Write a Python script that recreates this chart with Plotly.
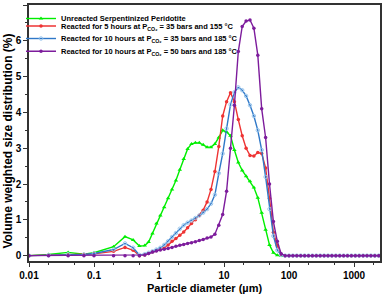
import plotly.graph_objects as go

# particle diameters (µm)
diam = [0.01, 0.02, 0.04, 0.07, 0.1, 0.2, 0.3, 0.4, 0.5,
        0.603, 0.692, 0.794, 0.912, 1.047, 1.202, 1.380, 1.585, 1.820, 2.089,
        2.399, 2.754, 3.162, 3.631, 4.169, 4.786, 5.495, 6.310, 7.244, 8.318,
        9.550, 10.965, 12.589, 14.454, 16.596, 19.055, 21.878, 25.119, 28.840,
        33.113, 38.019, 43.652, 50.119, 57.544, 66.069, 75.858, 87.096,
        100.0, 114.8, 131.8, 151.4, 173.8, 199.5, 229.1, 263.0, 302.0, 346.7,
        398.1, 457.1, 524.8, 602.6, 691.8, 794.3, 912.0, 1047.1, 1202.3,
        1380.4, 1584.9, 1819.7, 2089.3, 2398.8]

unreacted = [0.0, 0.03, 0.09, 0.04, 0.08, 0.25, 0.53, 0.44, 0.27,
             0.28, 0.38, 0.62, 0.90, 1.12, 1.35, 1.60, 1.85, 2.10, 2.40,
             2.70, 2.98, 3.12, 3.15, 3.15, 3.10, 3.03, 3.03, 3.12, 3.30,
             3.50, 3.45, 3.35, 2.95, 2.60, 2.38, 2.22, 2.08, 1.90,
             1.62, 1.20, 0.72, 0.30, 0.08, 0.01, 0.0, 0.0,
             0.0, 0.0, 0.0, 0.0, 0.0, 0.0, 0.0, 0.0, 0.0, 0.0,
             0.0, 0.0, 0.0, 0.0, 0.0, 0.0, 0.0, 0.0, 0.0,
             0.0, 0.0, 0.0, 0.0, 0.0]

react_5h_35bar = [0.0, 0.01, 0.02, 0.03, 0.05, 0.12, 0.23, 0.15, 0.0,
                  0.02, 0.06, 0.10, 0.14, 0.18, 0.22, 0.30, 0.40, 0.48, 0.57,
                  0.66, 0.78, 0.90, 1.00, 1.12, 1.27, 1.50, 1.85, 2.35, 3.05,
                  3.90, 4.30, 4.55, 4.30, 3.80, 3.35, 3.00, 2.80, 2.78,
                  2.88, 2.85, 2.45, 1.60, 0.65, 0.28, 0.03, 0.0,
                  0.0, 0.0, 0.0, 0.0, 0.0, 0.0, 0.0, 0.0, 0.0, 0.0,
                  0.0, 0.0, 0.0, 0.0, 0.0, 0.0, 0.0, 0.0, 0.0,
                  0.0, 0.0, 0.0, 0.0, 0.0]

react_10h_35bar = [0.0, 0.01, 0.04, 0.03, 0.06, 0.17, 0.34, 0.22, 0.02,
                   0.04, 0.08, 0.12, 0.17, 0.22, 0.30, 0.40, 0.52, 0.63, 0.75,
                   0.85, 0.92, 0.98, 1.05, 1.12, 1.20, 1.30, 1.45, 1.70, 2.30,
                   2.85, 3.55, 4.22, 4.56, 4.70, 4.62, 4.46, 4.20, 3.90,
                   3.50, 2.95, 2.20, 1.30, 0.55, 0.15, 0.02, 0.0,
                   0.0, 0.0, 0.0, 0.0, 0.0, 0.0, 0.0, 0.0, 0.0, 0.0,
                   0.0, 0.0, 0.0, 0.0, 0.0, 0.0, 0.0, 0.0, 0.0,
                   0.0, 0.0, 0.0, 0.0, 0.0]

react_10h_50bar = [0.0, 0.0, 0.0, 0.0, 0.0, 0.0, 0.0, 0.0, 0.0,
                   0.02, 0.06, 0.10, 0.13, 0.16, 0.18, 0.20, 0.23, 0.26, 0.29,
                   0.31, 0.34, 0.36, 0.39, 0.42, 0.45, 0.49, 0.52, 0.60, 0.85,
                   1.15, 1.80, 3.00, 4.20, 5.70, 6.40, 6.55, 6.58, 6.35,
                   5.60, 4.10, 3.30, 2.00, 0.95, 0.40, 0.05, 0.0,
                   0.0, 0.0, 0.0, 0.0, 0.0, 0.0, 0.0, 0.0, 0.0, 0.0,
                   0.0, 0.0, 0.0, 0.0, 0.0, 0.0, 0.0, 0.0, 0.0,
                   0.0, 0.0, 0.0, 0.0, 0.0]

names = ["Unreacted Serpentinized Peridotite",
         "Reacted for 5 hours at P<sub>CO₂</sub> = 35 bars and 155 °C",
         "Reacted for 10 hours at P<sub>CO₂</sub> = 35 bars and 185 °C",
         "Reacted for 10 hours at P<sub>CO₂</sub> = 50 bars and 185 °C"]

x_tickvals = [0.01, 0.1, 1, 10, 100, 1000]
x_ticktext = ["0.01", "0.1", "1", "10", "100", "1000"]

FONT = "Liberation Sans, Arial, sans-serif"

fig = go.Figure()
styles = [
    dict(line=dict(color="#00ee00", width=1.4),
         marker=dict(symbol="triangle-up", size=4, color="#00ee00")),
    dict(line=dict(color="#ee3333", width=1.4),
         marker=dict(symbol="circle", size=3.5, color="#ee3333")),
    dict(line=dict(color="#2f78c8", width=1.4),
         marker=dict(symbol="circle-open", size=3.5, color="#9cc8ee",
                     line=dict(width=1))),
    dict(line=dict(color="#7d1c9c", width=1.4),
         marker=dict(symbol="circle", size=3.5, color="#7d1c9c")),
]
legend_ids = ["legend", "legend2", "legend3", "legend4"]
for ys, nm, st, lg in zip([unreacted, react_5h_35bar, react_10h_35bar, react_10h_50bar],
                          names, styles, legend_ids):
    fig.add_trace(go.Scatter(x=diam, y=ys, name=nm, mode="lines+markers", legend=lg, **st))

axis_common = dict(showline=True, linecolor="#333333", linewidth=1.5, mirror=True,
                   ticks="outside", ticklen=4, tickwidth=1.2, tickcolor="#333333",
                   showgrid=False, zeroline=False, automargin=False,
                   tickfont=dict(family=FONT, size=10, color="black", weight="bold"))

fig.update_xaxes(type="log", range=[-2, 3.4], tickvals=x_tickvals, ticktext=x_ticktext,
                 minor=dict(ticks="outside", ticklen=2, tickwidth=1, tickcolor="#333333", showgrid=False),
                 **axis_common)
fig.update_yaxes(range=[-0.15, 7], dtick=1,
                 minor=dict(ticks="outside", ticklen=2, dtick=0.5, tickcolor="#333333", showgrid=False),
                 **axis_common)

legend_font = dict(family=FONT, size=7.5, color="black", weight="bold")
legend_tops = [0.9866, 0.9615, 0.9197, 0.8773]
legend_layout = {}
for lg, yt in zip(legend_ids, legend_tops):
    legend_layout[lg] = dict(xref="container", yref="container",
                             x=0.0547, y=yt, xanchor="left", yanchor="top",
                             bgcolor="rgba(0,0,0,0)", borderwidth=0,
                             font=legend_font, itemwidth=30)

fig.update_layout(
    width=384, height=299,
    margin=dict(l=29, r=4, t=5, b=38, autoexpand=False),
    paper_bgcolor="white", plot_bgcolor="white",
    showlegend=True,
    annotations=[
        dict(text="Particle diameter (µm)", xref="paper", yref="paper",
             x=0.5, y=-0.105, xanchor="center", yanchor="middle", showarrow=False,
             font=dict(family=FONT, size=11, color="black", weight="bold")),
        dict(text="Volume weighted size distribution (%)", xref="paper", yref="paper",
             x=-0.06, y=0.47, xanchor="center", yanchor="middle", showarrow=False,
             textangle=-90,
             font=dict(family=FONT, size=12, color="black", weight="bold")),
    ],
    **legend_layout,
)

fig.write_html("out.html", config={"displayModeBar": False},
               post_script="document.body.style.margin='0px';document.body.style.overflow='hidden';")
